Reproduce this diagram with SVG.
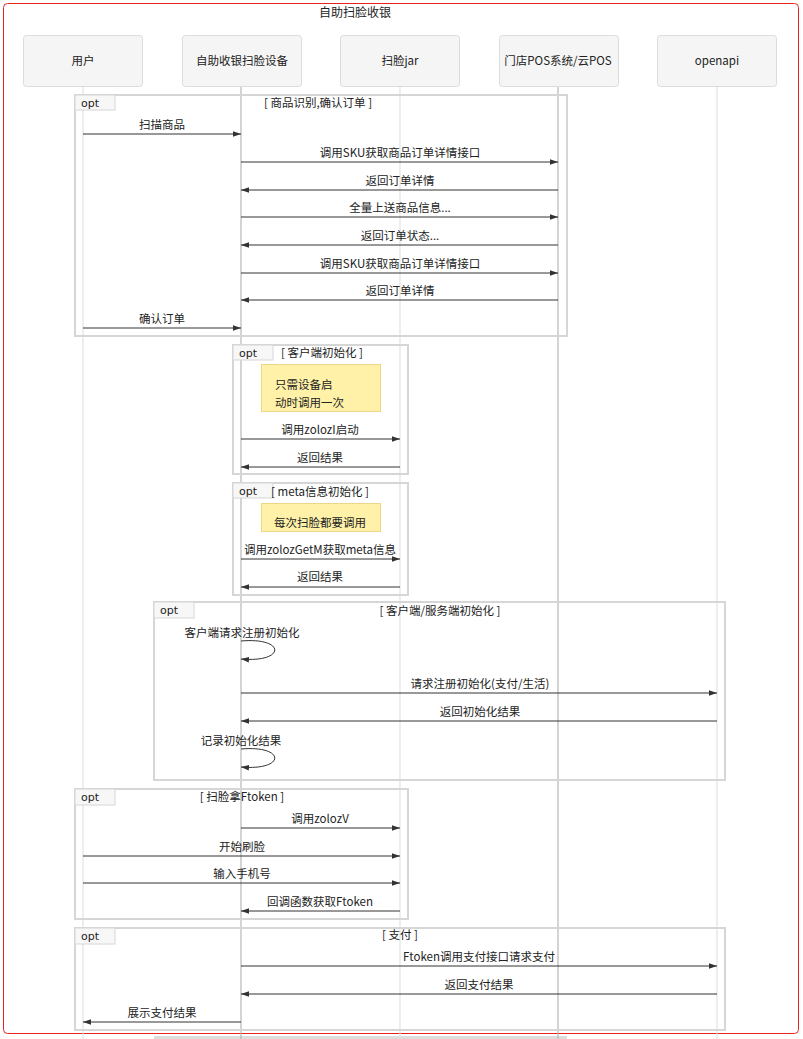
<svg xmlns="http://www.w3.org/2000/svg" width="803" height="1039" viewBox="0 0 803 1039">
<defs>
<marker id="ah" viewBox="0 0 10 10" refX="10" refY="5" markerWidth="8" markerHeight="8" markerUnits="userSpaceOnUse" orient="auto">
<path d="M0,1.5 L10,5 L0,8.5 z" fill="#333"/>
</marker>
</defs>
<style>
text{font-family:"Noto Sans CJK SC","Liberation Sans",sans-serif;font-size:11.5px;fill:#222}
.head{fill:#f5f5f5;stroke:#dcdcdc;stroke-width:1}
.ll1{stroke:#e2e2e2;stroke-width:1.2}
.ll2{stroke:#b8b8b8;stroke-width:1.2}
.frame{fill:none;stroke:#d6d6d6;stroke-width:2}
.tag{fill:#f7f7f7;stroke:#d6d6d6;stroke-width:1}
.msg{stroke:#333;stroke-width:1;fill:none;marker-end:url(#ah)}
.note{fill:#fff2a8;stroke:#ebd788;stroke-width:1}
.c{text-anchor:middle}
.opt{font-family:"DejaVu Sans","Liberation Sans",sans-serif;font-size:11px}
</style>
<rect x="0" y="0" width="803" height="1039" fill="#fff"/>
<rect x="3.5" y="3.5" width="795" height="1030" rx="4" fill="none" stroke="#e8231c" stroke-width="1"/>
<text class="c" x="355" y="17" style="font-size:12px">自助扫脸收银</text>
<rect x="154" y="1036" width="413" height="3" fill="#dddddd"/>

<g id="lifelines">
<line class="ll1" x1="83" y1="87" x2="83" y2="1039"/>
<line class="ll2" x1="241" y1="87" x2="241" y2="1039"/>
<line class="ll1" x1="400" y1="87" x2="400" y2="1039"/>
<line class="ll2" x1="558" y1="87" x2="558" y2="1039"/>
<line class="ll1" x1="717" y1="87" x2="717" y2="1039"/>
</g>

<g id="user"><rect class="head" x="23.5" y="35.5" width="119" height="51" rx="3"/><text class="c" x="83" y="65">用户</text></g>
<g id="device"><rect class="head" x="182.5" y="35.5" width="119" height="51" rx="3"/><text class="c" x="242" y="65">自助收银扫脸设备</text></g>
<g id="jar"><rect class="head" x="340.5" y="35.5" width="119" height="51" rx="3"/><text class="c" x="400" y="65">扫脸jar</text></g>
<g id="pos"><rect class="head" x="499.5" y="35.5" width="119" height="51" rx="3"/><text class="c" x="558" y="65">门店POS系统/云POS</text></g>
<g id="openapi"><rect class="head" x="657.5" y="35.5" width="119" height="51" rx="3"/><text class="c" x="717" y="65">openapi</text></g>

<g id="frame1">
<rect class="frame" x="75" y="95" width="492" height="241"/>
<rect class="tag" x="75" y="95" width="40" height="15"/>
<text class="opt" x="81" y="107">opt</text>
<text class="c" x="318" y="107">[ 商品识别,确认订单 ]</text>
</g>
<g id="frame2">
<rect class="frame" x="233" y="345" width="175" height="129"/>
<rect class="tag" x="233" y="345" width="40" height="15"/>
<text class="opt" x="239" y="357">opt</text>
<text class="c" x="322" y="357">[ 客户端初始化 ]</text>
</g>
<g id="note1">
<rect class="note" x="261.5" y="364.5" width="119" height="47"/>
<text x="275" y="389">只需设备启</text>
<text x="275" y="407">动时调用一次</text>
</g>
<g id="frame3">
<rect class="frame" x="233" y="483" width="175" height="112"/>
<rect class="tag" x="233" y="483" width="40" height="15"/>
<text class="opt" x="239" y="495">opt</text>
<text class="c" x="320" y="496">[ meta信息初始化 ]</text>
</g>
<g id="note2">
<rect class="note" x="261.5" y="503.5" width="119" height="28"/>
<text x="274" y="527">每次扫脸都要调用</text>
</g>
<g id="frame4">
<rect class="frame" x="154" y="602" width="571" height="178"/>
<rect class="tag" x="154" y="602" width="40" height="16"/>
<text class="opt" x="160" y="614">opt</text>
<text class="c" x="440" y="615">[ 客户端/服务端初始化 ]</text>
</g>
<g id="frame5">
<rect class="frame" x="75" y="789" width="333" height="130"/>
<rect class="tag" x="75" y="789" width="40" height="16"/>
<text class="opt" x="81" y="801">opt</text>
<text class="c" x="242" y="801">[ 扫脸拿Ftoken ]</text>
</g>
<g id="frame6">
<rect class="frame" x="75" y="928" width="650" height="102"/>
<rect class="tag" x="75" y="928" width="40" height="16"/>
<text class="opt" x="81" y="940">opt</text>
<text class="c" x="400" y="939">[ 支付 ]</text>
</g>

<g id="connectors">
<line class="msg" x1="83" y1="134" x2="241" y2="134"/>
<text class="c" x="162" y="129">扫描商品</text>
<line class="msg" x1="241" y1="162" x2="558" y2="162"/>
<text class="c" x="400" y="157">调用SKU获取商品订单详情接口</text>
<line class="msg" x1="558" y1="190" x2="241" y2="190"/>
<text class="c" x="400" y="185">返回订单详情</text>
<line class="msg" x1="241" y1="217" x2="558" y2="217"/>
<text class="c" x="400" y="212">全量上送商品信息...</text>
<line class="msg" x1="558" y1="245" x2="241" y2="245"/>
<text class="c" x="400" y="240">返回订单状态...</text>
<line class="msg" x1="241" y1="273" x2="558" y2="273"/>
<text class="c" x="400" y="268">调用SKU获取商品订单详情接口</text>
<line class="msg" x1="558" y1="300" x2="241" y2="300"/>
<text class="c" x="400" y="295">返回订单详情</text>
<line class="msg" x1="83" y1="328" x2="241" y2="328"/>
<text class="c" x="162" y="323">确认订单</text>

<line class="msg" x1="241" y1="439" x2="400" y2="439"/>
<text class="c" x="320" y="434">调用zolozI启动</text>
<line class="msg" x1="400" y1="467" x2="241" y2="467"/>
<text class="c" x="320" y="462">返回结果</text>

<line class="msg" x1="241" y1="559" x2="400" y2="559"/>
<text class="c" x="320" y="554">调用zolozGetM获取meta信息</text>
<line class="msg" x1="400" y1="587" x2="241" y2="587"/>
<text class="c" x="320" y="581">返回结果</text>

<path class="msg" d="M241,641 C286,637 286,663 241,659"/>
<text class="c" x="242" y="637">客户端请求注册初始化</text>
<line class="msg" x1="241" y1="693" x2="717" y2="693"/>
<text class="c" x="480" y="688">请求注册初始化(支付/生活)</text>
<line class="msg" x1="717" y1="721" x2="241" y2="721"/>
<text class="c" x="480" y="716">返回初始化结果</text>
<path class="msg" d="M241,749 C286,745 286,771 241,767"/>
<text class="c" x="241" y="745">记录初始化结果</text>

<line class="msg" x1="241" y1="828" x2="400" y2="828"/>
<text class="c" x="320" y="823">调用zolozV</text>
<line class="msg" x1="83" y1="856" x2="400" y2="856"/>
<text class="c" x="242" y="851">开始刷脸</text>
<line class="msg" x1="83" y1="883" x2="400" y2="883"/>
<text class="c" x="242" y="878">输入手机号</text>
<line class="msg" x1="400" y1="911" x2="241" y2="911"/>
<text class="c" x="320" y="906">回调函数获取Ftoken</text>

<line class="msg" x1="241" y1="966" x2="717" y2="966"/>
<text class="c" x="479" y="961">Ftoken调用支付接口请求支付</text>
<line class="msg" x1="717" y1="994" x2="241" y2="994"/>
<text class="c" x="479" y="989">返回支付结果</text>
<line class="msg" x1="241" y1="1022" x2="83" y2="1022"/>
<text class="c" x="162" y="1017">展示支付结果</text>
</g>
</svg>
